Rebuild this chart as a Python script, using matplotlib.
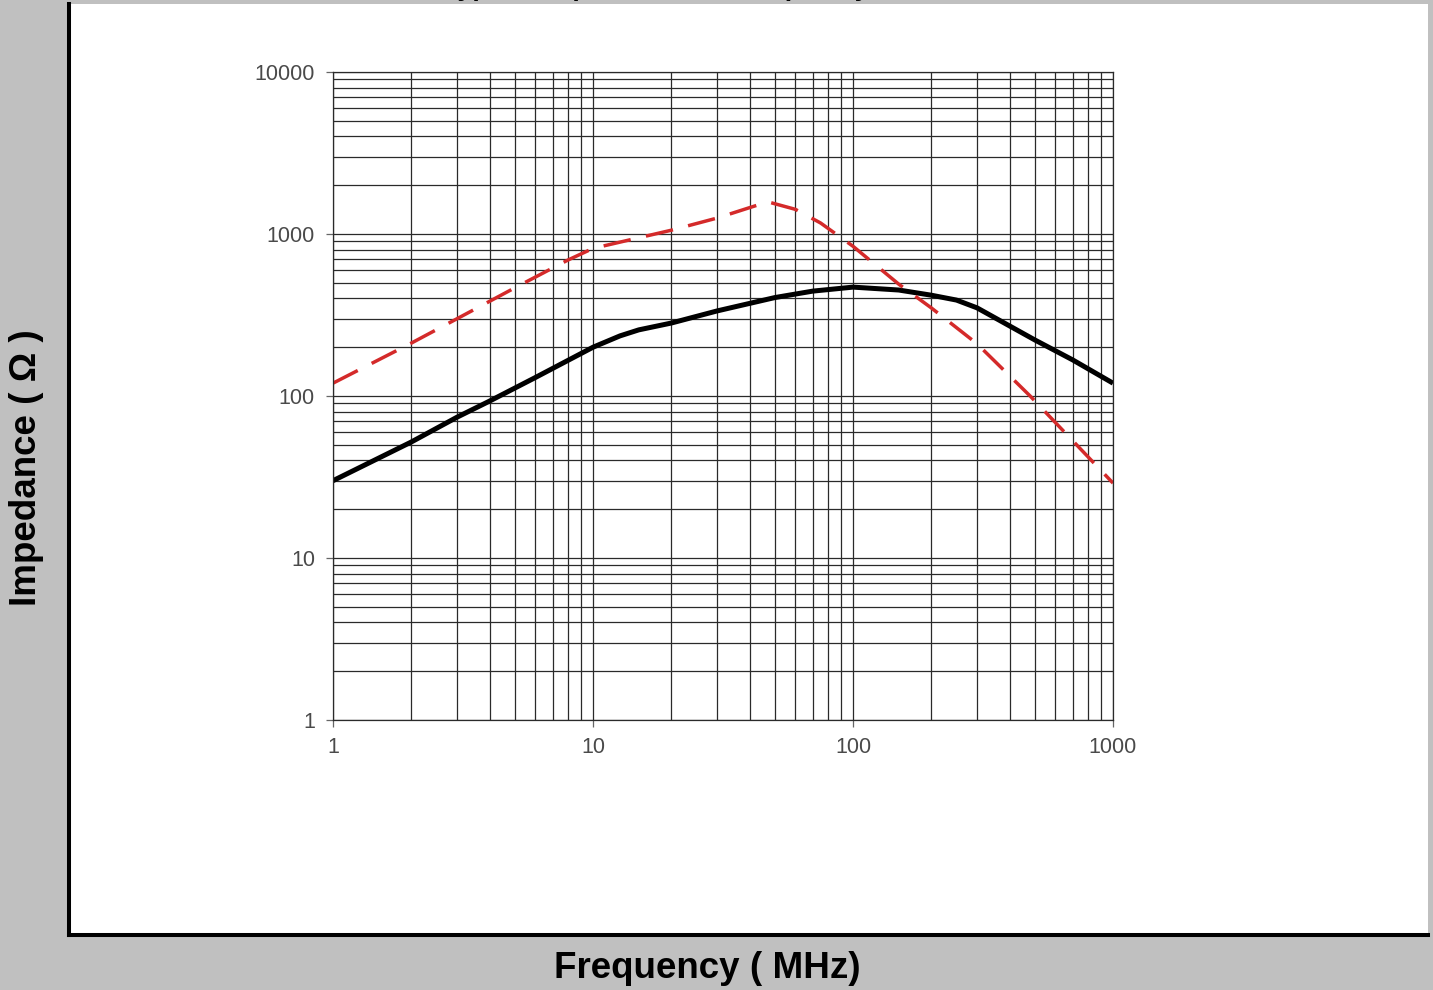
import matplotlib
matplotlib.use('Agg')
import matplotlib.pyplot as plt
from matplotlib.ticker import LogLocator, FixedLocator, FixedFormatter, NullFormatter

plt.rcParams['font.family'] = ['Liberation Sans', 'DejaVu Sans']

# Data
FREQ_SOLID = [1, 2, 3, 4, 6, 10, 12.7, 15, 20, 30, 50, 70, 100, 150, 200, 250, 300, 500, 700, 1000]
Z_SOLID = [30, 52, 74, 93, 130, 200, 235, 256, 282, 335, 405, 444, 470, 451, 419, 391, 350, 222, 167, 120]

FREQ_DASHED = [1, 2, 3, 5, 8, 10, 20, 30, 47, 60, 75, 100, 150, 200, 300, 480, 1000]
Z_DASHED = [120, 212, 300, 465, 690, 815, 1055, 1254, 1580, 1420, 1170, 840, 490, 350, 210, 100, 29]

X_TICKS = [1, 10, 100, 1000]
X_TICK_LABELS = ['1', '10', '100', '1000']
Y_TICKS = [1, 10, 100, 1000, 10000]
Y_TICK_LABELS = ['1', '10', '100', '1000', '10000']

TITLE = 'Typical Impedance vs. Frequency'
X_LABEL = 'Frequency ( MHz)'
Y_LABEL = 'Impedance ( Ω )'

W, H = 1433, 990
fig = plt.figure(figsize=(W / 100, H / 100), dpi=100)
fig.patch.set_facecolor('#c0c0c0')

def px_box(x0, y0, x1, y1):
    # pixel box (top-left origin) -> figure fraction rect
    return [x0 / W, 1 - y1 / H, (x1 - x0) / W, (y1 - y0) / H]

# title sits above the canvas, only the descenders peek in (as in the reference)
fig.text(656 / W, 1 + 4.5 / H, TITLE, ha='center', va='baseline',
         fontsize=19.4, fontweight='bold', color='black')

# white panel with heavy left/bottom border
panel = fig.add_axes(px_box(69, 4, 1428, 935))
panel.set_facecolor('white')
panel.set_xticks([])
panel.set_yticks([])
for side in ('top', 'right'):
    panel.spines[side].set_visible(False)
for side in ('left', 'bottom'):
    panel.spines[side].set_linewidth(2.9)
    panel.spines[side].set_color('black')

ax = fig.add_axes(px_box(333, 72, 1113, 720))
ax.set_facecolor('white')
ax.set_xscale('log')
ax.set_yscale('log')
ax.set_xlim(1, 1000)
ax.set_ylim(1, 10000)

ax.xaxis.set_major_locator(FixedLocator(X_TICKS))
ax.xaxis.set_major_formatter(FixedFormatter(X_TICK_LABELS))
ax.yaxis.set_major_locator(FixedLocator(Y_TICKS))
ax.yaxis.set_major_formatter(FixedFormatter(Y_TICK_LABELS))
ax.xaxis.set_minor_locator(LogLocator(base=10, subs=range(2, 10)))
ax.yaxis.set_minor_locator(LogLocator(base=10, subs=range(2, 10)))
ax.xaxis.set_minor_formatter(NullFormatter())
ax.yaxis.set_minor_formatter(NullFormatter())

ax.grid(which='both', color='#2a2a2a', linewidth=0.9)
ax.set_axisbelow(True)
for s in ax.spines.values():
    s.set_color('#2a2a2a')
    s.set_linewidth(0.9)

ax.tick_params(which='major', length=5, width=0.9, color='#666666',
               labelsize=15.5, labelcolor='#4a4a4a', pad=8)
ax.tick_params(axis='x', which='major', pad=7)
ax.tick_params(which='minor', length=0)

ax.plot(FREQ_SOLID, Z_SOLID, color='black', linewidth=3.6, solid_capstyle='butt')
ax.plot(FREQ_DASHED, Z_DASHED, color='#d42a2a', linewidth=2.5, dashes=(8, 4.5))

fig.text(707 / W, 1 - 968 / H, X_LABEL, ha='center', va='center',
         fontsize=26.5, fontweight='bold')
fig.text(27 / W, 1 - 468 / H, Y_LABEL, ha='center', va='center',
         rotation=90, fontsize=26.5, fontweight='bold')

fig.savefig('out.png', dpi=100, facecolor=fig.get_facecolor())
